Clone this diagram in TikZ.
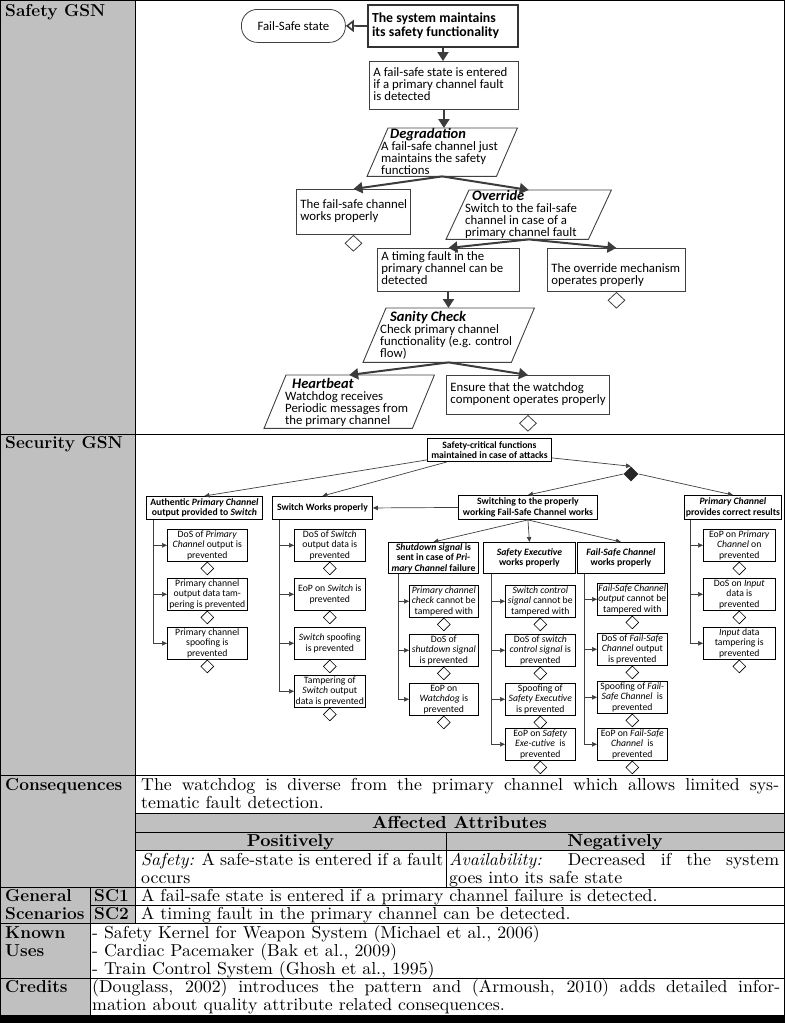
\documentclass[tikz,border=0pt]{standalone}
\usepackage{fontspec}
\newfontfamily\gsn{Carlito}
\newfontfamily\wide{lmroman10}[Extension=.otf, UprightFont=*-regular, BoldFont=*-bold, ItalicFont=*-italic, BoldItalicFont=*-bolditalic, FakeStretch=1.03]
\usetikzlibrary{arrows.meta,shapes.geometric,calc}
\definecolor{tgray}{RGB}{192,192,192}
\definecolor{garr}{RGB}{60,60,60}
\newcommand\tfont{\wide\fontsize{17.3}{18.4}\selectfont}
\newcommand\lfont{\fontsize{17.3}{18.4}\selectfont}
\newcommand\sfnt{\gsn\fontsize{12.8}{12}\selectfont\lineskiplimit=-20pt}
\newcommand\gfnt{\gsn\fontsize{13.8}{14}\selectfont\bfseries\lineskiplimit=-20pt}
\newcommand\secf{\gsn\fontsize{9.7}{10.5}\selectfont\lineskiplimit=-20pt}
\newcommand\gtxt[5]{\parbox[c][#2][t]{#1}{\vspace*{#3}\raggedright\leftskip=#4\relax\rule{0pt}{9pt}#5}}
\newcommand\ttl[2]{\hspace*{#1}{\fontsize{14.5}{12}\selectfont\bfseries\itshape #2}}
\newcommand\jl[2]{\makebox[#1][s]{#2}}
\tikzset{
  tb/.style={anchor=base west, inner sep=0, font=\tfont},
  tbc/.style={anchor=base, inner sep=0, font=\tfont\bfseries},
  tbb/.style={anchor=base west, inner sep=0, font=\lfont\bfseries},
  gb/.style={draw=black!75, line width=0.9pt, inner sep=0, anchor=north west, font=\sfnt},
  pg/.style={inner sep=0, anchor=north west, font=\sfnt},
  gline/.style={draw=black!75, line width=0.9pt},
  sarr/.style={draw=garr, line width=2pt, -{Triangle[length=9pt,width=11pt]}},
  oarr/.style={draw=garr, line width=1.6pt, -{Triangle[open,length=8pt,width=12pt,fill=white]}},
  sdia/.style={diamond, aspect=1, draw=black!75, line width=0.8pt, fill=white, inner sep=0, minimum width=17pt, minimum height=16pt, anchor=north},
  sn/.style={draw, line width=0.9pt, inner sep=0, anchor=north west, align=center, font=\secf\bfseries},
  leaf/.style={draw, line width=0.6pt, inner sep=0, anchor=north west, align=center, font=\secf, minimum height=32pt},
  ldia/.style={diamond, aspect=1, draw, line width=0.6pt, fill=white, inner sep=0, minimum width=13pt, minimum height=13pt, anchor=north},
  secarr/.style={draw=black!75, line width=0.7pt, -{Triangle[length=5pt,width=4.5pt]}},
}
\begin{document}
\begin{tikzpicture}[x=1pt,y=-1pt]
\useasboundingbox (0,0) rectangle (785,1023);
% ---------- table background ----------
\fill[tgray] (0,0) rectangle (135,887);
\fill[tgray] (135,813) rectangle (784,850);
\fill[tgray] (0,887) rectangle (135,923);
\fill[tgray] (0,923) rectangle (90,1015);
\begin{scope}[line width=0.8pt]
\draw (0.5,0.5) -- (784,0.5);
\draw (0,434) -- (784,434);
\draw (0,775) -- (784,775);
\draw (135,813) -- (784,813);
\draw (135,832) -- (784,832);
\draw (135,850) -- (784,850);
\draw (0,887) -- (784,887);
\draw (90,905) -- (784,905);
\draw (0,923) -- (784,923);
\draw (0,978) -- (784,978);
\draw (0.5,0) -- (0.5,1015);
\draw (784,0) -- (784,1015);
\draw (135,0) -- (135,923);
\draw (90,887) -- (90,1015);
\draw (446,832) -- (446,887);
\end{scope}
\fill[black] (0,1015) rectangle (785,1023);
% ---------- table texts ----------
\node[tbb] (l1) at (5,16) {Safety GSN};
\node[tbb] (l2) at (5,448) {Security GSN};
\node[tbb] (l3) at (5,790) {Consequences};
\node[tb] (c1) at (141,790) {\jl{638pt}{The watchdog is diverse from the primary channel which allows limited sys-}};
\node[tb] (c2) at (141,808) {tematic fault detection.};
\node[tbc] (aa) at (459.5,828) {Affected Attributes};
\node[tbc] (pos) at (290.5,846) {Positively};
\node[tbc] (neg) at (615,846) {Negatively};
\node[tb] (s1) at (141,865) {\jl{302pt}{\textit{Safety:} A safe-state is entered if a fault}};
\node[tb] (s2) at (141,883) {occurs};
\node[tb] (n1) at (449,865) {\jl{330pt}{\textit{Availability:} Decreased if the system}};
\node[tb] (n2) at (449,883) {goes into its safe state};
\node[tbb] (g1) at (5,901) {General};
\node[tbb] (g2) at (5,919) {Scenarios};
\node[tbb] (sc1) at (94,901) {SC1};
\node[tbb] (sc2) at (94,919) {SC2};
\node[tb] (t1) at (141,901) {A fail-safe state is entered if a primary channel failure is detected.};
\node[tb] (t2) at (141,919) {A timing fault in the primary channel can be detected.};
\node[tbb] (k1) at (5,938) {Known};
\node[tbb] (k2) at (5,956) {Uses};
\node[tb] (u1) at (92,938) {- Safety Kernel for Weapon System (Michael et al., 2006)};
\node[tb] (u2) at (92,956) {- Cardiac Pacemaker (Bak et al., 2009)};
\node[tb] (u3) at (92,974) {- Train Control System (Ghosh et al., 1995)};
\node[tbb] (cr) at (5,992) {Credits};
\node[tb] (cr1) at (92,992) {\jl{688pt}{(Douglass, 2002) introduces the pattern and (Armoush, 2010) adds detailed infor-}};
\node[tb] (cr2) at (92,1010) {mation about quality attribute related consequences.};
% ---------- Safety GSN ----------
\node[draw=black!75, line width=0.8pt, rounded corners=16pt, minimum width=104pt, minimum height=33pt, inner sep=0, anchor=north west, font=\sfnt] (FS) at (241,9) {Fail-Safe state};
\node[draw=black!80, line width=2pt, anchor=north west, minimum width=150pt, minimum height=42pt, inner sep=0, font=\gfnt] (G1) at (367,4) {\parbox{142pt}{\raggedright The system maintains\\its safety functionality}};
\node[gb] (B2) at (369,61) {\gtxt{149pt}{48pt}{6.5pt}{4pt}{A fail-safe state is entered\\if a primary channel fault\\is detected}};
\node[pg] (DG) at (367,128) {\gtxt{150pt}{48pt}{0pt}{14pt}{\ttl{9pt}{Degradation}\\A fail-safe channel just\\maintains the safety\\functions}};
\draw[gline] ($(DG.north west)+(21,0)$) -- (DG.north east) -- ($(DG.south east)+(-21,0)$) -- (DG.south west) -- cycle;
\node[gb] (FSC) at (296,189) {\gtxt{114pt}{45pt}{10.5pt}{4pt}{The fail-safe channel\\works properly}};
\node[pg] (OV) at (446,190) {\gtxt{165pt}{49pt}{0pt}{19pt}{\ttl{7pt}{Override}\\Switch to the fail-safe\\channel in case of a\\primary channel fault}};
\draw[gline] ($(OV.north west)+(23,0)$) -- (OV.north east) -- ($(OV.south east)+(-23,0)$) -- (OV.south west) -- cycle;
\node[gb] (TF) at (377,248) {\gtxt{142pt}{43pt}{3.5pt}{4pt}{A timing fault in the\\primary channel can be\\detected}};
\node[gb] (OM) at (547,248) {\gtxt{138pt}{43pt}{15.5pt}{4pt}{The override mechanism\\operates properly}};
\node[pg] (SC) at (363,308) {\gtxt{171pt}{54pt}{3.5pt}{17pt}{\ttl{10pt}{Sanity Check}\\Check primary channel\\functionality (e.g. control\\flow)}};
\draw[gline] ($(SC.north west)+(23,0)$) -- (SC.north east) -- ($(SC.south east)+(-23,0)$) -- (SC.south west) -- cycle;
\node[pg] (HB) at (264,375) {\gtxt{170pt}{53pt}{3.5pt}{21pt}{\ttl{7pt}{Heartbeat}\\Watchdog receives\\Periodic messages from\\the primary channel}};
\draw[gline] ($(HB.north west)+(22,0)$) -- (HB.north east) -- ($(HB.south east)+(-22,0)$) -- (HB.south west) -- cycle;
\node[gb] (EN) at (446,375) {\gtxt{163pt}{39pt}{7.5pt}{4pt}{Ensure that the watchdog\\component operates properly}};
\node[sdia] (FSCd) at (FSC.south) {};
\node[sdia] (OMd) at (OM.south) {};
\node[sdia] (ENd) at (EN.south) {};
\draw[oarr] (G1.west) -- (FS.east);
\draw[sarr] (G1.south) -- (G1.south |- B2.north);
\draw[sarr] (B2.south) -- (B2.south |- DG.north);
\draw[sarr] (DG.south) -- (FSC.north);
\draw[sarr] (DG.south) -- (OV.north);
\draw[sarr] (OV.south) -- (TF.north);
\draw[sarr] (OV.south) -- (OM.north);
\draw[sarr] (TF.south) -- (TF.south |- SC.north);
\draw[sarr] (SC.south) -- (HB.north);
\draw[sarr] (SC.south) -- (EN.north);
% ---------- Security GSN ----------
\node[sn, minimum width=124pt, minimum height=23pt] (T) at (427,438) {Safety-critical functions\\maintained in case of attacks};
\node[diamond, aspect=1, fill=black!85, inner sep=0, minimum width=15pt, minimum height=15pt] (D) at (631,474) {};
\node[sn, minimum width=116pt, minimum height=23pt] (A) at (146,496) {Authentic \textit{Primary Channel}\\output provided to \textit{Switch}};
\node[sn, minimum width=100pt, minimum height=23pt] (SW) at (272,496) {Switch Works properly};
\node[sn, minimum width=139pt, minimum height=24pt] (SF) at (458,495) {Switching to the properly\\working Fail-Safe Channel works};
\node[sn, minimum width=97pt, minimum height=24pt] (PC) at (684,495) {\textit{Primary Channel}\\provides correct results};
\node[sn, minimum width=90pt, minimum height=31pt] (SD) at (388,542) {\textit{Shutdown signal} is\\sent in case of \textit{Pri-}\\\textit{mary Channel} failure};
\node[sn, minimum width=92pt, minimum height=31pt] (SE) at (483,542) {\textit{Safety Executive}\\works properly};
\node[sn, minimum width=87pt, minimum height=31pt] (FC) at (577,542) {\textit{Fail-Safe Channel}\\works properly};
\draw[secarr] ([yshift=2pt]T.south west) -- (A.north);
\draw[secarr] ($(T.south west)+(20,0)$) -- (SW.north);
\draw[secarr] ($(T.south east)+(0,-4)$) -- (D.north);
\draw[secarr] (D.west) -- (SF.north);
\draw[secarr] (D.east) -- (PC.north);
\draw[secarr] (SF.west) -- (SW.east);
\draw[secarr] (SF.south) -- (SD.north);
\draw[secarr] (SF.south) -- (SE.north);
\draw[secarr] (SF.south) -- (FC.north);
% leaves column A
\node[leaf, minimum width=80pt] (a1) at (167,529) {DoS of \textit{Primary}\\\textit{Channel} output is\\prevented};
\node[leaf, minimum width=80pt] (a2) at (167,578) {Primary channel\\output data tam-\\pering is prevented};
\node[leaf, minimum width=80pt] (a3) at (167,627) {Primary channel\\spoofing is\\prevented};
% column SW
\node[leaf, minimum width=71pt] (b1) at (294,529) {DoS of \textit{Switch}\\output data is\\prevented};
\node[leaf, minimum width=71pt] (b2) at (294,578) {EoP on \textit{Switch} is\\prevented};
\node[leaf, minimum width=71pt] (b3) at (294,627) {\textit{Switch} spoofing\\is prevented};
\node[leaf, minimum width=71pt] (b4) at (294,675) {Tampering of\\\textit{Switch} output\\data is prevented};
% column SD
\node[leaf, minimum width=69pt] (c1) at (409,585) {\textit{Primary channel}\\\textit{check} cannot be\\tampered with};
\node[leaf, minimum width=69pt] (c2) at (409,634) {DoS of\\\textit{shutdown signal}\\is prevented};
\node[leaf, minimum width=69pt] (c3) at (409,683) {EoP on\\\textit{Watchdog} is\\prevented};
% column SE
\node[leaf, minimum width=70pt] (d1) at (505,585) {\textit{Switch control}\\\textit{signal} cannot be\\tampered with};
\node[leaf, minimum width=70pt] (d2) at (505,634) {DoS of \textit{switch}\\\textit{control signal} is\\prevented};
\node[leaf, minimum width=70pt] (d3) at (505,683) {Spoofing of\\\textit{Safety Executive}\\is prevented};
\node[leaf, minimum width=70pt] (d4) at (505,728) {EoP on \textit{Safety}\\\textit{Exe-cutive}~ is\\prevented};
% column FC
\node[leaf, minimum width=70pt] (e1) at (597,583) {\textit{Fail-Safe Channel}\\\textit{output} cannot be\\tampered with};
\node[leaf, minimum width=70pt] (e2) at (597,633) {DoS of \textit{Fail-Safe}\\\textit{Channel} output\\is prevented};
\node[leaf, minimum width=70pt] (e3) at (597,681) {Spoofing of \textit{Fail-}\\\textit{Safe Channel}~ is\\prevented};
\node[leaf, minimum width=70pt] (e4) at (597,728) {EoP on \textit{Fail-Safe}\\\textit{Channel}~ is\\prevented};
% column PC
\node[leaf, minimum width=72pt] (f1) at (703,529) {EoP on \textit{Primary}\\\textit{Channel} on\\prevented};
\node[leaf, minimum width=72pt] (f2) at (703,578) {DoS on \textit{Input}\\data is\\prevented};
\node[leaf, minimum width=72pt] (f3) at (703,627) {\textit{Input} data\\tampering is\\prevented};
% leaf diamonds
\foreach \n in {a1,a2,a3,b1,b2,b3,b4,c1,c2,c3,d1,d2,d3,d4,e1,e2,e3,e4,f1,f2,f3}{
  \node[ldia] (\n d) at (\n.south) {};
}
% leaf connectors
\foreach \n in {a1,a2,a3}{\draw[secarr] ($(A.south west)+(7,0)$) |- (\n.west);}
\foreach \n in {b1,b2,b3,b4}{\draw[secarr] ($(SW.south west)+(7,0)$) |- (\n.west);}
\foreach \n in {c1,c2,c3}{\draw[secarr] ($(SD.south west)+(10,0)$) |- (\n.west);}
\foreach \n in {d1,d2,d3,d4}{\draw[secarr] ($(SE.south west)+(8,0)$) |- (\n.west);}
\foreach \n in {e1,e2,e3,e4}{\draw[secarr] ($(FC.south west)+(7,0)$) |- (\n.west);}
\foreach \n in {f1,f2,f3}{\draw[secarr] ($(PC.south west)+(6,0)$) |- (\n.west);}
\end{tikzpicture}
\end{document}
